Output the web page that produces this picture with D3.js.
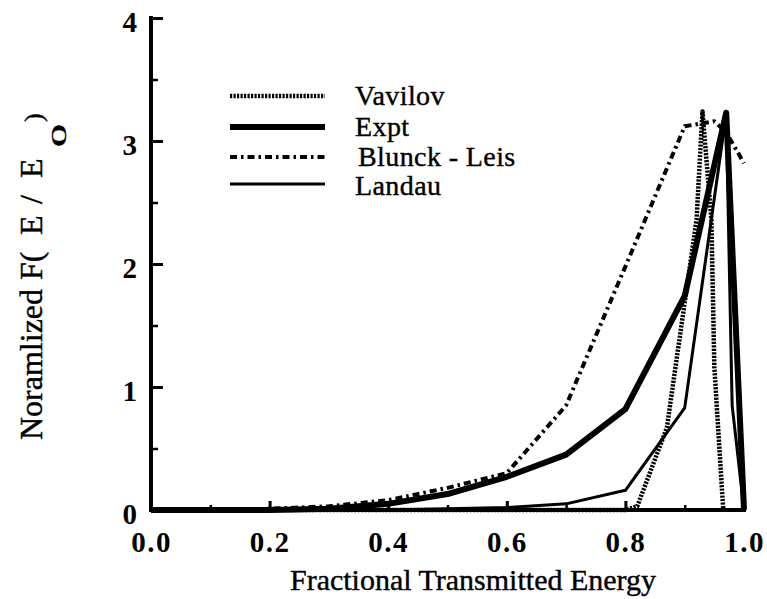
<!DOCTYPE html>
<html>
<head>
<meta charset="utf-8">
<script src="https://cdn.jsdelivr.net/npm/d3@7"></script>
<style>
  html, body { margin: 0; padding: 0; background: #fff; }
  svg { display: block; }
  svg text { font-family: "Liberation Serif", "Times New Roman", Times, "DejaVu Serif", serif !important; fill: #000; }
</style>
</head>
<body>
<svg id="chart" width="767" height="599"></svg>
<script>
// Fractional transmitted energy distributions
const seriesNames = ["Vavilov", "Expt", "Blunck - Leis", "Landau"];

const vavilovX = [0, 0.1, 0.2, 0.3, 0.4, 0.5, 0.6, 0.7, 0.8, 0.82, 0.87, 0.885, 0.92, 0.93, 0.945, 0.95, 0.965];
const vavilovY = [0, 0, 0, 0, 0, 0, 0, 0, 0, 0.03, 0.67, 1.18, 2.36, 3.24, 2.36, 1.16, 0];

const exptX = [0, 0.1, 0.2, 0.3, 0.4, 0.5, 0.6, 0.7, 0.8, 0.9, 0.97, 1.0];
const exptY = [0, 0, 0, 0.01, 0.05, 0.13, 0.27, 0.45, 0.82, 1.74, 3.23, 0];

const blunckX = [0, 0.1, 0.2, 0.3, 0.4, 0.5, 0.6, 0.7, 0.8, 0.9, 0.95, 0.97, 1.0];
const blunckY = [0, 0, 0.01, 0.03, 0.08, 0.18, 0.3, 0.85, 1.98, 3.12, 3.16, 3.07, 2.82];

const landauX = [0, 0.1, 0.2, 0.3, 0.4, 0.5, 0.6, 0.7, 0.8, 0.9, 0.97, 0.98, 1.0];
const landauY = [0, 0, 0, 0, 0, 0.01, 0.02, 0.05, 0.16, 0.83, 3.22, 0.85, 0];

const xTickValues = [0, 0.2, 0.4, 0.6, 0.8, 1.0];
const xTickLabels = ["0.0", "0.2", "0.4", "0.6", "0.8", "1.0"];
const yTickValues = [0, 1, 2, 3, 4];
const yTickLabels = ["0", "1", "2", "3", "4"];
const xMinorTicks = [0.1, 0.3, 0.5, 0.7, 0.9];
const yMinorTicks = [0.5, 1.5, 2.5, 3.5];

const svg = d3.select("#chart");
const plotLeft = 151, plotRight = 744, plotTop = 18, plotBottom = 510;
const serif = "'Liberation Serif', 'Times New Roman', Times, serif";

const x = d3.scaleLinear().domain([0, 1]).range([plotLeft, plotRight]);
const y = d3.scaleLinear().domain([0, 4]).range([plotBottom, plotTop]);

const styles = {
  "Vavilov":       { width: 4.5, dash: "2.2,1.3" },
  "Expt":          { width: 6,   dash: null },
  "Blunck - Leis": { width: 4,   dash: "7,4,2.5,4" },
  "Landau":        { width: 3,   dash: null }
};

const series = [
  { name: "Vavilov", xs: vavilovX, ys: vavilovY },
  { name: "Expt", xs: exptX, ys: exptY },
  { name: "Blunck - Leis", xs: blunckX, ys: blunckY },
  { name: "Landau", xs: landauX, ys: landauY }
];

const line = d3.line().x(d => x(d[0])).y(d => y(d[1]));

// curves
svg.append("g").selectAll("path")
  .data(series)
  .join("path")
  .attr("d", s => line(s.xs.map((v, i) => [v, s.ys[i]])))
  .attr("fill", "none")
  .attr("stroke", "#000")
  .attr("stroke-width", s => styles[s.name].width)
  .attr("stroke-linejoin", "round")
  .attr("stroke-dasharray", s => styles[s.name].dash);

// axes with inward ticks
const xAxis = d3.axisBottom(x).tickValues(xTickValues).tickSize(-9)
  .tickFormat((d, i) => xTickLabels[i]).tickPadding(20);
const gx = svg.append("g").attr("transform", `translate(0,${plotBottom})`).call(xAxis)
  .attr("font-family", serif);
gx.select(".domain").remove();
gx.selectAll(".tick line").attr("stroke-width", 3);
gx.selectAll(".tick text")
  .attr("font-size", 29).attr("font-weight", "bold")
  .attr("letter-spacing", 1.5)
  .attr("dy", "0.75em");

const xMinor = d3.axisBottom(x).tickValues(xMinorTicks).tickSize(-5).tickFormat("");
const gxm = svg.append("g").attr("transform", `translate(0,${plotBottom})`).call(xMinor);
gxm.select(".domain").remove();
gxm.selectAll(".tick line").attr("stroke-width", 2.5);

const yAxis = d3.axisLeft(y).tickValues(yTickValues).tickSize(-12)
  .tickFormat((d, i) => yTickLabels[i]).tickPadding(14);
const gy = svg.append("g").attr("transform", `translate(${plotLeft},0)`).call(yAxis)
  .attr("font-family", serif);
gy.select(".domain").remove();
gy.selectAll(".tick line").attr("stroke-width", 3);
gy.selectAll(".tick text")
  .attr("font-size", 29).attr("font-weight", "bold")
  .attr("dy", "0.45em");

const yMinor = d3.axisLeft(y).tickValues(yMinorTicks).tickSize(-7).tickFormat("");
const gym = svg.append("g").attr("transform", `translate(${plotLeft},0)`).call(yMinor);
gym.select(".domain").remove();
gym.selectAll(".tick line").attr("stroke-width", 2.5);

// axis frame lines
svg.append("path")
  .attr("d", `M${x(0)},${y(4)} L${x(0)},${y(0)} L${x(1)},${y(0)}`)
  .attr("fill", "none").attr("stroke", "#000").attr("stroke-width", 4)
  .attr("stroke-linecap", "square");

// axis titles
svg.append("text")
  .attr("x", 473).attr("y", 590)
  .attr("text-anchor", "middle").attr("font-size", 30)
  .attr("font-family", serif)
  .attr("stroke", "#000").attr("stroke-width", 0.4)
  .text("Fractional Transmitted Energy");

// rotated y title; pieces spaced along the text line
const yt = svg.append("text")
  .attr("transform", "translate(42,440) rotate(-90)")
  .attr("font-size", 32)
  .attr("font-family", serif)
  .attr("stroke", "#000").attr("stroke-width", 0.4);
yt.append("tspan").attr("x", 0).text("Noramlized");
yt.append("tspan").attr("x", 160).text("F(");
yt.append("tspan").attr("x", 205).text("E");
yt.append("tspan").attr("x", 236).text("/");
yt.append("tspan").attr("x", 262).text("E");
yt.append("tspan").attr("x", 293).attr("dy", 24).attr("font-size", 21)
  .attr("textLength", 23).attr("lengthAdjust", "spacingAndGlyphs").text("0");
yt.append("tspan").attr("x", 318).attr("dy", -24).attr("font-size", 26).text(")");

// legend
const legendRows = [96, 127, 157, 184];
const lg = svg.append("g").attr("font-family", serif);
seriesNames.forEach((name, i) => {
  const yy = legendRows[i];
  lg.append("line")
    .attr("x1", 230).attr("x2", 325).attr("y1", yy).attr("y2", yy)
    .attr("stroke", "#000")
    .attr("stroke-width", styles[name].width)
    .attr("stroke-dasharray", styles[name].dash);
  lg.append("text")
    .attr("x", name === "Blunck - Leis" ? 358 : 355).attr("y", yy + (i === 3 ? 11 : 9))
    .attr("font-size", 28)
    .attr("letter-spacing", 0.4)
    .attr("stroke", "#000").attr("stroke-width", 0.4)
    .text(name);
});
</script>
</body>
</html>
